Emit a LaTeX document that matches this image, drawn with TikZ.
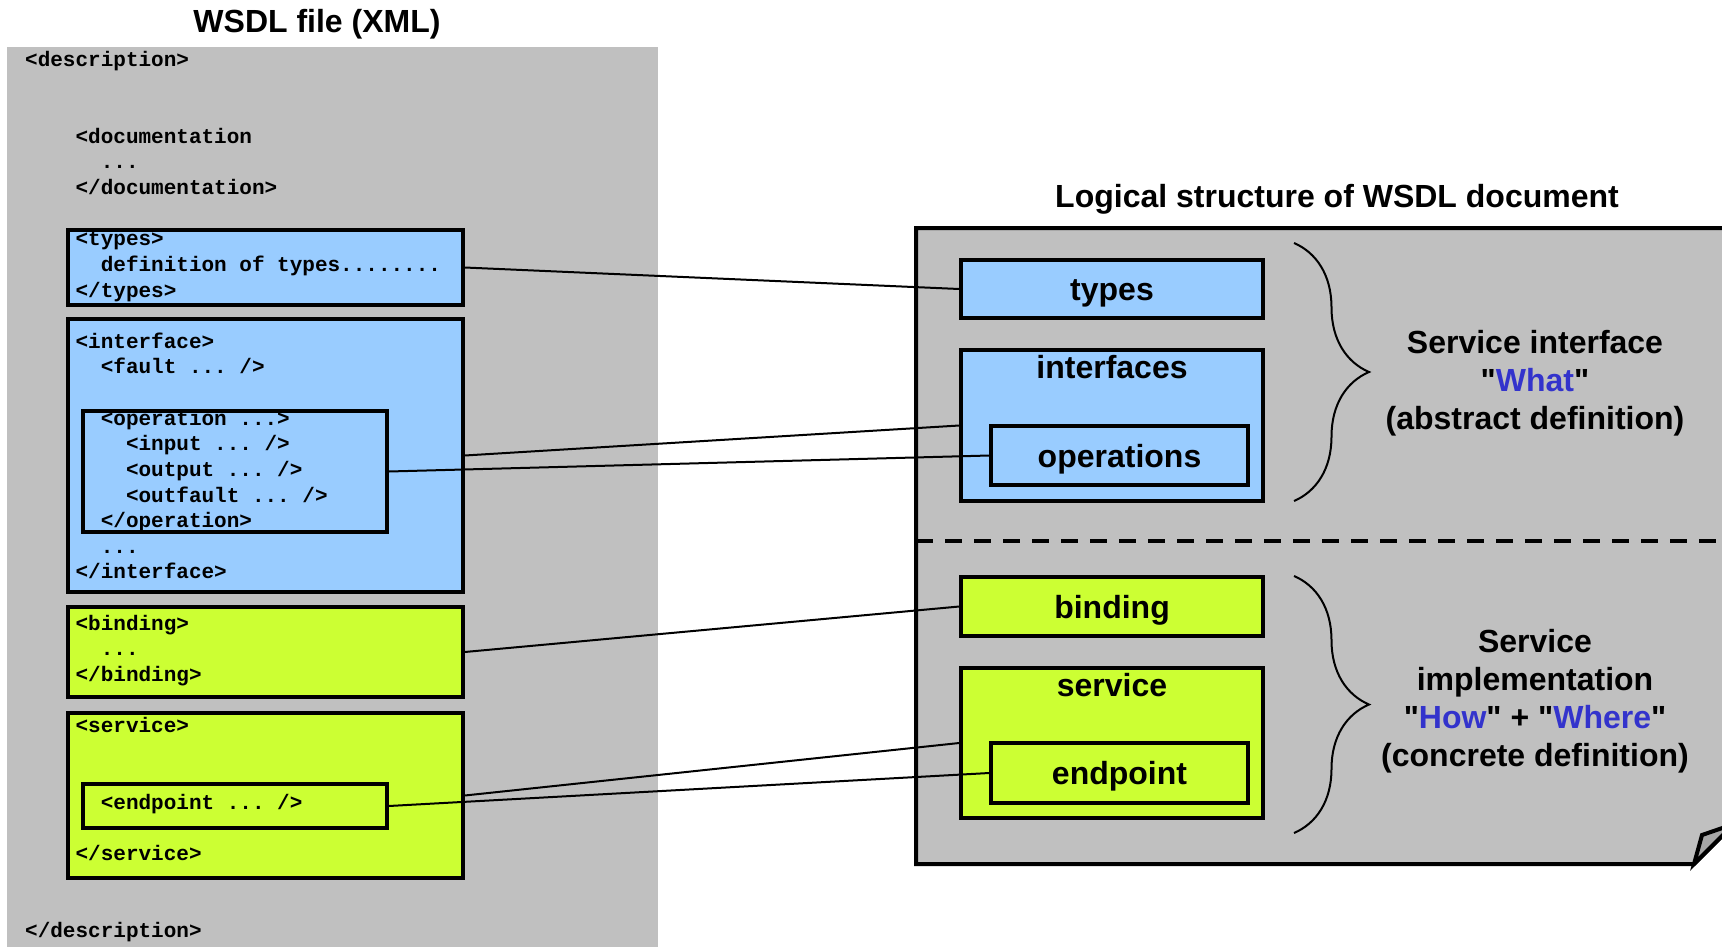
\documentclass[tikz,border=0pt]{standalone}
\usepackage{fontspec}
\setmainfont{Liberation Sans}[Ligatures=TeXOff]
\setmonofont{Liberation Mono}
\usetikzlibrary{decorations.pathreplacing}

\definecolor{ifaceblue}{HTML}{99CCFF}
\definecolor{implgreen}{HTML}{CCFF33}
\definecolor{panelgray}{HTML}{C0C0C0}
\definecolor{flapgray}{HTML}{A6A6A6}
\definecolor{keyblue}{HTML}{3333CC}

\begin{document}
\begin{tikzpicture}[x=1bp, y=-1bp,
    xbox/.style={draw, line width=3.5bp, inner sep=0pt, minimum width=395bp},
    innerbox/.style={draw, line width=3.5bp, inner sep=0pt, minimum width=304bp},
    rbox/.style={draw, line width=3.5bp, inner sep=0pt, minimum width=302bp},
    subbox/.style={draw, line width=3.5bp, inner sep=0pt, minimum width=257bp},
    code/.style={anchor=base west, inner sep=0pt, font=\ttfamily\bfseries\fontsize{21bp}{25bp}\selectfont},
    heading/.style={anchor=base, inner sep=0pt, font=\bfseries\fontsize{32bp}{38bp}\selectfont},
    boxname/.style={anchor=base, inner sep=0pt, font=\bfseries\fontsize{32bp}{38bp}\selectfont},
    sidenote/.style={align=center, inner sep=0pt, font=\bfseries\fontsize{32bp}{38bp}\selectfont},
    curly/.style={decorate, decoration={brace, amplitude=75bp}, line width=2bp},
    link/.style={line width=2bp}]
  \useasboundingbox (0,0) rectangle (1722,947);
  \clip (0,0) rectangle (1722,947);

  % xml file on the left
  \fill[panelgray] (7,47) rectangle (658,947);
  \node[heading] (filetitle) at (317,32) {WSDL file (XML)};

  \node[xbox, fill=ifaceblue, minimum height=75bp] (xtypes) at (265.5,267.5) {};
  \node[xbox, fill=ifaceblue, minimum height=273bp] (xiface) at (265.5,455.5) {};
  \node[innerbox, minimum height=121bp] (xop) at (235,471.5) {};
  \node[xbox, fill=implgreen, minimum height=90bp] (xbind) at (265.5,652) {};
  \node[xbox, fill=implgreen, minimum height=165bp] (xserv) at (265.5,795.5) {};
  \node[innerbox, minimum height=44bp] (xend) at (235,806) {};

  % one line of the listing: line number / indent / text
  \foreach \k/\n/\t in {0/0/{<description>},
      3/4/{<documentation}, 4/6/{...}, 5/4/{</documentation>},
      7/4/{<types>}, 8/6/{definition of types........}, 9/4/{</types>},
      11/4/{<interface>}, 12/6/{<fault ... />},
      14/6/{<operation ...>}, 15/8/{<input ... />}, 16/8/{<output ... />},
      17/8/{<outfault ... />}, 18/6/{</operation>},
      19/6/{...}, 20/4/{</interface>},
      22/4/{<binding>}, 23/6/{...}, 24/4/{</binding>},
      26/4/{<service>}, 29/6/{<endpoint ... />}, 31/4/{</service>},
      34/0/{</description>}}
    \node[code] (ln\k) at (25+12.6*\n, 66.5+25.62*\k) {\t};

  % logical structure on the right
  \node[heading] (docktitle) at (1337,207) {Logical structure of WSDL document};
  \draw[line width=4bp, fill=panelgray] (916,228) -- (1800,228) -- (1800,758)
    -- (1694,864) -- (916,864) -- cycle;
  \draw[line width=4bp, fill=flapgray] (1694,864) -- (1702,835) -- (1734,824) -- cycle;
  \draw[line width=4bp, dash pattern=on 17bp off 12bp] (916,541) -- (1800,541);

  \node[rbox, fill=ifaceblue, minimum height=58bp] (rtypes) at (1112,289) {};
  \node[rbox, fill=ifaceblue, minimum height=151bp] (riface) at (1112,425.5) {};
  \node[subbox, minimum height=59bp] (rop) at (1119.5,455.5) {};
  \node[rbox, fill=implgreen, minimum height=59bp] (rbind) at (1112,606.5) {};
  \node[rbox, fill=implgreen, minimum height=150bp] (rserv) at (1112,743) {};
  \node[subbox, minimum height=60bp] (rend) at (1119.5,773) {};

  \node[boxname] (typesname) at (1112,300) {types};
  \node[boxname] (ifacename) at (1112,378) {interfaces};
  \node[boxname] (opname) at (1119.5,467) {operations};
  \node[boxname] (bindname) at (1112,618) {binding};
  \node[boxname] (servname) at (1112,696) {service};
  \node[boxname] (endname) at (1119.5,784) {endpoint};

  \draw[curly] (1294,243) -- (1294,501);
  \draw[curly] (1294,576) -- (1294,833);
  \node[sidenote] (whatnote) at (1535,383)
    {Service interface\\"\textcolor{keyblue}{What}"\\(abstract definition)};
  \node[sidenote] (hownote) at (1535,701)
    {Service\\implementation\\"\textcolor{keyblue}{How}" + "\textcolor{keyblue}{Where}"\\(concrete definition)};

  % xml element -> logical part
  \draw[link] (xtypes.east) -- (rtypes.west);
  \draw[link] (xiface.east) -- (riface.west);
  \draw[link] (xop.east) -- (rop.west);
  \draw[link] (xbind.east) -- (rbind.west);
  \draw[link] (xserv.east) -- (rserv.west);
  \draw[link] (xend.east) -- (rend.west);
\end{tikzpicture}
\end{document}
